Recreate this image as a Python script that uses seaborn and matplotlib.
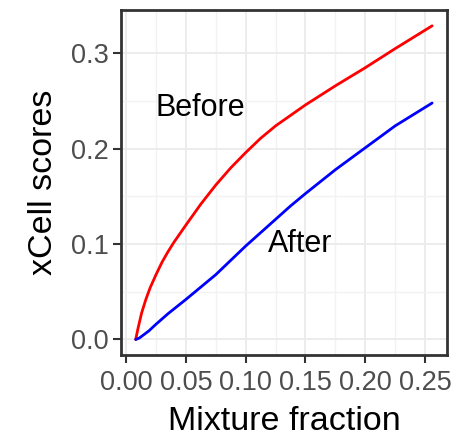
import matplotlib
matplotlib.use("Agg")
import matplotlib.pyplot as plt
import seaborn as sns
import pandas as pd
from matplotlib.ticker import MultipleLocator

# Score curves against mixture fraction
before_x = [0.008, 0.010, 0.013, 0.0165, 0.02, 0.025, 0.03, 0.035, 0.04, 0.05,
            0.0625, 0.075, 0.0875, 0.1, 0.1125, 0.125, 0.1375, 0.15, 0.1625,
            0.175, 0.2, 0.225, 0.256]
before_y = [0.0, 0.012, 0.028, 0.042, 0.054, 0.068, 0.081, 0.092, 0.102, 0.120,
            0.142, 0.162, 0.180, 0.196, 0.211, 0.224, 0.235, 0.246, 0.256,
            0.266, 0.285, 0.305, 0.329]

after_x = [0.008, 0.011, 0.0137, 0.019, 0.025, 0.035, 0.05, 0.0625, 0.075,
           0.0875, 0.1, 0.1125, 0.125, 0.1375, 0.15, 0.175, 0.2, 0.225, 0.256]
after_y = [0.0, 0.0015, 0.004, 0.009, 0.016, 0.027, 0.042, 0.055, 0.068,
           0.083, 0.098, 0.112, 0.126, 0.140, 0.153, 0.178, 0.201, 0.224, 0.248]

x_ticks = [0.00, 0.05, 0.10, 0.15, 0.20, 0.25]
x_tick_labels = ["0.00", "0.05", "0.10", "0.15", "0.20", "0.25"]
y_ticks = [0.0, 0.1, 0.2, 0.3]
y_tick_labels = ["0.0", "0.1", "0.2", "0.3"]

df = pd.concat([
    pd.DataFrame({"fraction": before_x, "score": before_y, "state": "Before"}),
    pd.DataFrame({"fraction": after_x, "score": after_y, "state": "After"}),
])

sns.set_theme(style="white")
plt.rcParams["font.family"] = ["Liberation Sans", "DejaVu Sans"]

fig, ax = plt.subplots(figsize=(4.51, 4.38), dpi=100)
fig.subplots_adjust(left=0.268, right=0.991, top=0.977, bottom=0.189)

ax.set_axisbelow(True)
ax.xaxis.set_minor_locator(MultipleLocator(0.025))
ax.yaxis.set_minor_locator(MultipleLocator(0.05))
ax.grid(True, which="major", color="#EBEBEB", linewidth=1.3)
ax.grid(True, which="minor", color="#F2F2F2", linewidth=1.0)

sns.lineplot(data=df, x="fraction", y="score", hue="state",
             palette={"Before": "#FF0000", "After": "#0000FF"},
             linewidth=2.0, legend=False, ax=ax, sort=False)
for line in ax.get_lines():
    line.set_solid_joinstyle("round")

ax.set_xlim(-0.0044, 0.2684)
ax.set_ylim(-0.0165, 0.3455)
ax.set_xticks(x_ticks)
ax.set_xticklabels(x_tick_labels)
ax.set_yticks(y_ticks)
ax.set_yticklabels(y_tick_labels)

ax.tick_params(axis="both", which="major", length=5.5, width=1.5,
               color="#333333", labelsize=19.5, labelcolor="#4D4D4D",
               bottom=True, left=True, pad=3)
ax.tick_params(axis="x", which="major", pad=5.5)
ax.tick_params(axis="both", which="minor", length=0)

for side in ax.spines.values():
    side.set_color("#333333")
    side.set_linewidth(2.0)

ax.set_xlabel("Mixture fraction", fontsize=24.5, color="black", labelpad=7)
ax.set_ylabel("xCell scores", fontsize=24.5, color="black", labelpad=9)

ax.text(0.062, 0.243, "Before", fontsize=22, color="black",
        ha="center", va="center")
ax.text(0.146, 0.100, "After", fontsize=22, color="black",
        ha="center", va="center")

fig.savefig("out.png", dpi=100)
